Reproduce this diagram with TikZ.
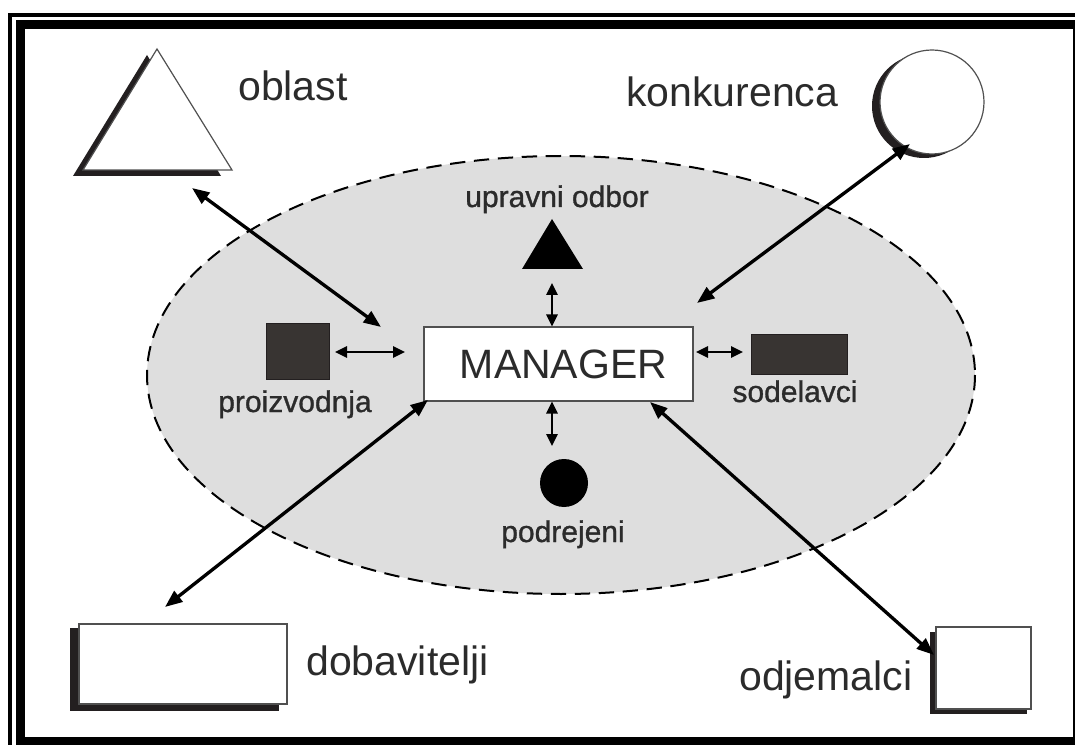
\documentclass[tikz,border=0pt]{standalone}
\usepackage{fontspec}
\setmainfont{Liberation Sans}
\newfontfamily\tagfont[FakeBold=1]{Liberation Sans}
\usetikzlibrary{arrows.meta}
\definecolor{ink}{HTML}{2B2B2B}
\definecolor{zone}{HTML}{DEDEDE}
\definecolor{block}{HTML}{383432}
\definecolor{solid}{HTML}{231F20}
\definecolor{edge}{HTML}{505050}

\begin{document}
\begin{tikzpicture}[x=0.75pt,y=-0.75pt,
  big/.style={font=\fontsize{30.75}{36}\selectfont, text=ink, inner sep=0pt},
  small/.style={font=\tagfont\fontsize{22.5}{27}\selectfont, text=ink, inner sep=0pt},
  link/.style={line width=2.5pt, {Triangle[length=13pt,width=10pt]}-{Triangle[length=13pt,width=10pt]}},
  shortlink/.style={line width=1.5pt, {Triangle[length=9pt,width=8.5pt]}-{Triangle[length=9pt,width=8.5pt]}},
  shadow/.style={fill=solid},
  paper/.style={fill=white, draw=edge, line width=0.9pt},
  darkblock/.style={fill=block, draw=solid, line width=0.6pt},
  managerbox/.style={draw=edge, fill=white, line width=0.9pt, minimum width=201.75pt,
    minimum height=55.5pt, inner sep=0pt, font=\fontsize{30.75}{36}\selectfont, text=ink},
]
\useasboundingbox (0,0) rectangle (1075,745);

% double frame round the page
\begin{scope}
  \clip (0,0) rectangle (1075,745);
  \fill[white] (0,0) rectangle (1075,745);
  \draw[line width=2.6pt] (10,15) rectangle (1100,770);
  \draw[line width=6.75pt] (20.5,24.5) rectangle (1077,741);
\end{scope}

% the organisation
\draw[fill=zone, line width=1.5pt, dash pattern=on 11.5pt off 6.5pt] (561,375) ellipse [x radius=414, y radius=219];

% outside world: shapes with drop shadows
\fill[shadow] (147,55) -- (221,176) -- (73,176) -- cycle;
\draw[paper] (157,49) -- (232,170) -- (83,170) -- cycle;
\fill[shadow] (924,106) circle [radius=52];
\draw[paper] (932,102) circle [radius=52];
\fill[shadow] (70,628) rectangle (279,711);
\draw[paper] (79,624) rectangle (287,704);
\fill[shadow] (930,632) rectangle (1027,714);
\draw[paper] (936,627) rectangle (1031,709);

\node[big, anchor=base west] (oblast) at (238,101) {oblast};
\node[big, anchor=base west] (konk) at (626,107) {konkurenca};
\node[big, anchor=base west] (dobav) at (306,675) {dobavitelji};
\node[big, anchor=base west] (odjem) at (739,690) {odjemalci};

% inside the organisation
\node[managerbox] (mgr) at (558.5,364) {\hspace*{7.5pt}MANAGER};
\fill[solid] (552,219) -- (583,269) -- (522,269) -- cycle;
\fill[solid] (564,483) circle [radius=24];
\draw[darkblock] (266,323) rectangle (329,379);
\draw[darkblock] (751,334) rectangle (847,374);

\node[small, anchor=base] (board) at (557,207) {upravni odbor};
\node[small, anchor=base] (prod) at (295,412) {proizvodnja};
\node[small, anchor=base] (staff) at (795,402) {sodelavci};
\node[small, anchor=base] (sub) at (563,542) {podrejeni};

% connector end points
\coordinate (oblastEnd) at (192,188);
\coordinate (oblastTip) at (381,327);
\coordinate (konkEnd) at (910,144);
\coordinate (konkTip) at (697,303);
\coordinate (dobavEnd) at (165,607);
\coordinate (dobavTip) at (428,400);
\coordinate (odjemEnd) at (934,655);
\coordinate (odjemTip) at (650,402);
\coordinate (boardEnd) at (552,283);
\coordinate (subEnd) at (552,446);
\coordinate (prodEnd) at (335,352);
\coordinate (prodTip) at (405,352);
\coordinate (staffEnd) at (743,352);
\coordinate (staffTip) at (696,352);

\draw[link] (oblastEnd) -- (oblastTip);
\draw[link] (konkTip) -- (konkEnd);
\draw[link] (dobavEnd) -- (dobavTip);
\draw[link] (odjemTip) -- (odjemEnd);

\draw[shortlink] (boardEnd) -- (mgr.north -| boardEnd);
\draw[shortlink] (mgr.south -| subEnd) -- (subEnd);
\draw[shortlink] (prodEnd) -- (prodTip);
\draw[shortlink] (staffTip) -- (staffEnd);
\end{tikzpicture}
\end{document}
